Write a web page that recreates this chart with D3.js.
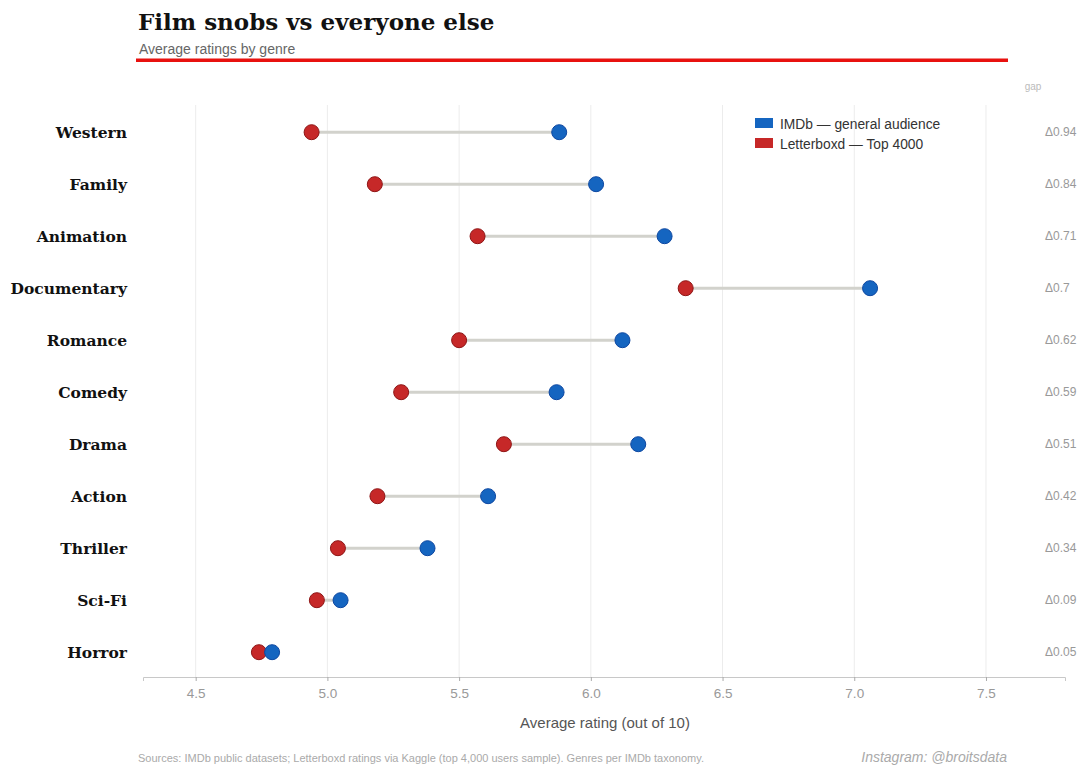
<!DOCTYPE html>
<html>
<head>
<meta charset="utf-8">
<script src="https://cdn.jsdelivr.net/npm/d3@7"></script>
<style>
  html, body { margin: 0; padding: 0; background: #fff; }
  svg { display: block; }
</style>
</head>
<body>
<svg id="chart" width="1088" height="774"></svg>
<script>
const genres = ["Western", "Family", "Animation", "Documentary", "Romance", "Comedy", "Drama", "Action", "Thriller", "Sci-Fi", "Horror"];
const imdb = [5.88, 6.02, 6.28, 7.06, 6.12, 5.87, 6.18, 5.61, 5.38, 5.05, 4.79];
const letterboxd = [4.94, 5.18, 5.57, 6.36, 5.50, 5.28, 5.67, 5.19, 5.04, 4.96, 4.74];
const xTicks = [4.5, 5.0, 5.5, 6.0, 6.5, 7.0, 7.5];
const seriesNames = ["IMDb — general audience", "Letterboxd — Top 4000"];

const rows = genres.map((g, i) => ({ genre: g, imdb: imdb[i], lb: letterboxd[i], gap: Math.round((imdb[i] - letterboxd[i]) * 100) / 100 }));

const svg = d3.select("#chart");
const serif = "'DejaVu Serif', Georgia, serif";
const sans = "'Liberation Sans', Arial, sans-serif";
const blue = "#1565c0", blueStroke = "#0d47a1";
const red = "#c62828", redStroke = "#8e1414";

const x = d3.scaleLinear().domain([4.3, 7.8]).range([143, 1065]);
const y = d3.scaleBand().domain(genres).range([106.2, 678.2]);
const yc = g => y(g) + y.bandwidth() / 2;

// Title
svg.append("text").attr("x", 138).attr("y", 30).attr("font-family", serif).attr("font-weight", "bold")
  .attr("font-size", 23).attr("fill", "#111").text("Film snobs vs everyone else");
svg.append("text").attr("x", 139).attr("y", 54).attr("font-family", sans)
  .attr("font-size", 14).attr("fill", "#666").text("Average ratings by genre");
svg.append("rect").attr("x", 136).attr("y", 58.5).attr("width", 872).attr("height", 3.5).attr("fill", "#e8110f");

// Grid
svg.append("g").selectAll("line").data(xTicks).join("line")
  .attr("x1", d => x(d)).attr("x2", d => x(d)).attr("y1", 105).attr("y2", 677)
  .attr("stroke", "#ececec").attr("stroke-width", 1);

// X axis
const xAxis = svg.append("g").attr("transform", "translate(0,677)")
  .call(d3.axisBottom(x).tickValues(xTicks).tickFormat(d3.format(".1f")).tickSize(4).tickPadding(7));
xAxis.select(".domain").attr("stroke", "#c8c8c8");
xAxis.selectAll(".tick line").attr("stroke", "#aaa");
xAxis.selectAll("text").attr("font-family", sans).attr("font-size", 13.5).attr("fill", "#999");

svg.append("text").attr("x", 605).attr("y", 728).attr("text-anchor", "middle").attr("font-family", sans)
  .attr("font-size", 15).attr("fill", "#555").text("Average rating (out of 10)");

// Y labels
svg.append("g").selectAll("text").data(genres).join("text")
  .attr("x", 127).attr("y", d => yc(d)).attr("dy", "0.36em").attr("text-anchor", "end")
  .attr("font-family", serif).attr("font-weight", "bold").attr("font-size", 15.5).attr("fill", "#111")
  .text(d => d);

// Connectors
svg.append("g").selectAll("line").data(rows).join("line")
  .attr("x1", d => x(d.lb)).attr("x2", d => x(d.imdb)).attr("y1", d => yc(d.genre)).attr("y2", d => yc(d.genre))
  .attr("stroke", "#d2d2cc").attr("stroke-width", 3);

// Dots
svg.append("g").selectAll("circle").data(rows).join("circle")
  .attr("cx", d => x(d.lb)).attr("cy", d => yc(d.genre)).attr("r", 7.5)
  .attr("fill", red).attr("stroke", redStroke).attr("stroke-width", 1);
svg.append("g").selectAll("circle").data(rows).join("circle")
  .attr("cx", d => x(d.imdb)).attr("cy", d => yc(d.genre)).attr("r", 7.5)
  .attr("fill", blue).attr("stroke", blueStroke).attr("stroke-width", 1);

// Gap labels
svg.append("text").attr("x", 1033).attr("y", 90).attr("text-anchor", "middle").attr("font-family", sans)
  .attr("font-size", 10).attr("fill", "#bbb").text("gap");
svg.append("g").selectAll("text").data(rows).join("text")
  .attr("x", 1045).attr("y", d => yc(d.genre)).attr("dy", "0.32em").attr("font-family", sans)
  .attr("font-size", 12).attr("fill", "#999").text(d => "Δ" + d.gap);

// Legend
const legend = svg.append("g");
[blue, red].forEach((c, i) => {
  legend.append("rect").attr("x", 755).attr("y", 118 + i * 20).attr("width", 18).attr("height", 10)
    .attr("fill", c);
  legend.append("text").attr("x", 780).attr("y", 124 + i * 20).attr("dy", "0.35em").attr("font-family", sans)
    .attr("font-size", 13.8).attr("fill", "#333").text(seriesNames[i]);
});

// Footer
svg.append("text").attr("x", 138).attr("y", 762).attr("font-family", sans).attr("font-size", 11)
  .attr("fill", "#aaa").text("Sources: IMDb public datasets; Letterboxd ratings via Kaggle (top 4,000 users sample). Genres per IMDb taxonomy.");
svg.append("text").attr("x", 1007).attr("y", 762).attr("text-anchor", "end").attr("font-family", sans)
  .attr("font-style", "italic").attr("font-size", 14).attr("fill", "#aaa").text("Instagram: @broitsdata");
</script>
</body>
</html>
